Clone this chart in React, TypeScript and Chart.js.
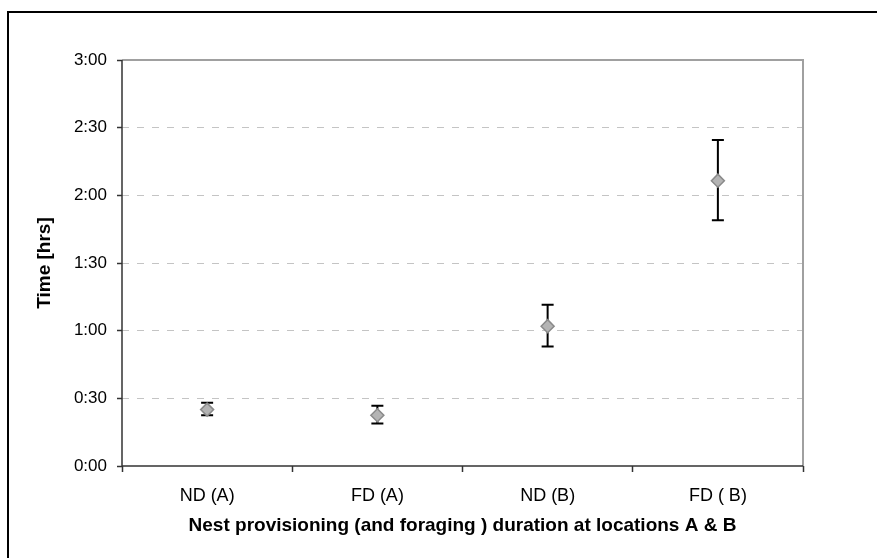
import React, { useEffect, useRef } from "react";
import { Chart, registerables } from "chart.js";

Chart.register(...registerables);

const categories = ["ND (A)", "FD (A)", "ND (B)", "FD ( B)"];
// values in minutes
const means = [25, 22.5, 62, 126.5];
const lower = [22.5, 18.8, 53, 109];
const upper = [28, 26.7, 71.5, 144.5];
const yTicks = [0, 30, 60, 90, 120, 150, 180];

const fmt = (m: number) => {
  const h = Math.floor(m / 60);
  const mm = Math.round(m - h * 60);
  return `${h}:${mm < 10 ? "0" + mm : mm}`;
};

const FONT = "Liberation Sans, Arial, sans-serif";

const errorBars = {
  id: "errorBars",
  beforeDatasetsDraw(chart: any) {
    const { ctx, scales } = chart;
    const xs = scales.x;
    const ys = scales.y;
    ctx.save();
    ctx.strokeStyle = "#000";
    ctx.lineWidth = 2;
    for (let i = 0; i < categories.length; i++) {
      const x = xs.getPixelForValue(i);
      const yt = ys.getPixelForValue(upper[i]);
      const yb = ys.getPixelForValue(lower[i]);
      ctx.beginPath();
      ctx.moveTo(x, yt);
      ctx.lineTo(x, yb);
      ctx.moveTo(x - 6, yt);
      ctx.lineTo(x + 6, yt);
      ctx.moveTo(x - 6, yb);
      ctx.lineTo(x + 6, yb);
      ctx.stroke();
    }
    ctx.restore();
  },
};

const frame = {
  id: "frame",
  afterDraw(chart: any) {
    const { ctx, chartArea: a } = chart;
    ctx.save();
    ctx.lineWidth = 2;
    ctx.strokeStyle = "#a0a0a0";
    ctx.beginPath();
    ctx.moveTo(a.left, a.top);
    ctx.lineTo(a.right, a.top);
    ctx.lineTo(a.right, a.bottom);
    ctx.stroke();
    ctx.strokeStyle = "#333";
    ctx.lineWidth = 1.5;
    ctx.beginPath();
    ctx.moveTo(a.left, a.top);
    ctx.lineTo(a.left, a.bottom);
    ctx.lineTo(a.right, a.bottom);
    ctx.stroke();
    ctx.restore();
  },
};

export default function App() {
  const ref = useRef<HTMLCanvasElement>(null);
  useEffect(() => {
    document.body.style.margin = "0";
    const chart = new Chart(ref.current!, {
      type: "line",
      data: {
        labels: categories,
        datasets: [
          {
            data: means,
            showLine: false,
            pointStyle: "rectRot",
            pointRadius: 6.5,
            pointHoverRadius: 6.5,
            backgroundColor: "#b4b4b4",
            borderColor: "#8a8a8a",
            borderWidth: 1.5,
          },
        ],
      },
      options: {
        animation: false,
        responsive: false,
        events: [],
        layout: { padding: { left: 0, top: 60, right: 74, bottom: 0 } },
        plugins: { legend: { display: false }, tooltip: { enabled: false } },
        scales: {
          x: {
            type: "category",
            offset: true,
            afterFit(s: any) {
              s.height = 92;
            },
            grid: {
              offset: true,
              drawOnChartArea: false,
              drawTicks: true,
              tickLength: 6,
              tickColor: "#333",
              tickWidth: 1.5,
            },
            border: { display: false },
            ticks: {
              color: "#000",
              padding: 13,
              font: { family: FONT, size: 18 },
            },
            title: {
              display: true,
              text: "Nest provisioning (and foraging ) duration at locations A & B",
              color: "#000",
              padding: { top: 0, bottom: 21 },
              font: { family: FONT, size: 19, weight: "bold" },
            },
          },
          y: {
            min: 0,
            max: 180,
            afterFit(s: any) {
              s.width = 122;
            },
            afterBuildTicks(s: any) {
              s.ticks = yTicks.map((v) => ({ value: v }));
            },
            grid: {
              color: (c: any) =>
                c.tick && (c.tick.value === 0 || c.tick.value === 180) ? "rgba(0,0,0,0)" : "#c4c4c4",
              lineWidth: 1,
              tickLength: 5,
              tickColor: "#333",
              tickWidth: 1.5,
              tickBorderDash: [],
            },
            border: { display: false, dash: [7, 8] },
            ticks: {
              color: "#000",
              padding: 10,
              callback: (v: any) => fmt(Number(v)),
              font: { family: FONT, size: 17 },
            },
            title: {
              display: true,
              text: "Time [hrs]",
              color: "#000",
              padding: { top: 33, bottom: 0 },
              font: { family: FONT, size: 19, weight: "bold" },
            },
          },
        },
      },
      plugins: [errorBars, frame],
    });
    return () => chart.destroy();
  }, []);
  return (
    <div style={{ position: "relative", width: 877, height: 558, overflow: "hidden", background: "#fff" }}>
      <div
        style={{
          position: "absolute",
          left: 7,
          top: 11,
          width: 900,
          height: 600,
          borderLeft: "2px solid #000",
          borderTop: "2px solid #000",
          boxSizing: "border-box",
        }}
      />
      <canvas ref={ref} width={877} height={558} style={{ position: "absolute", left: 0, top: 0 }} />
    </div>
  );
}
